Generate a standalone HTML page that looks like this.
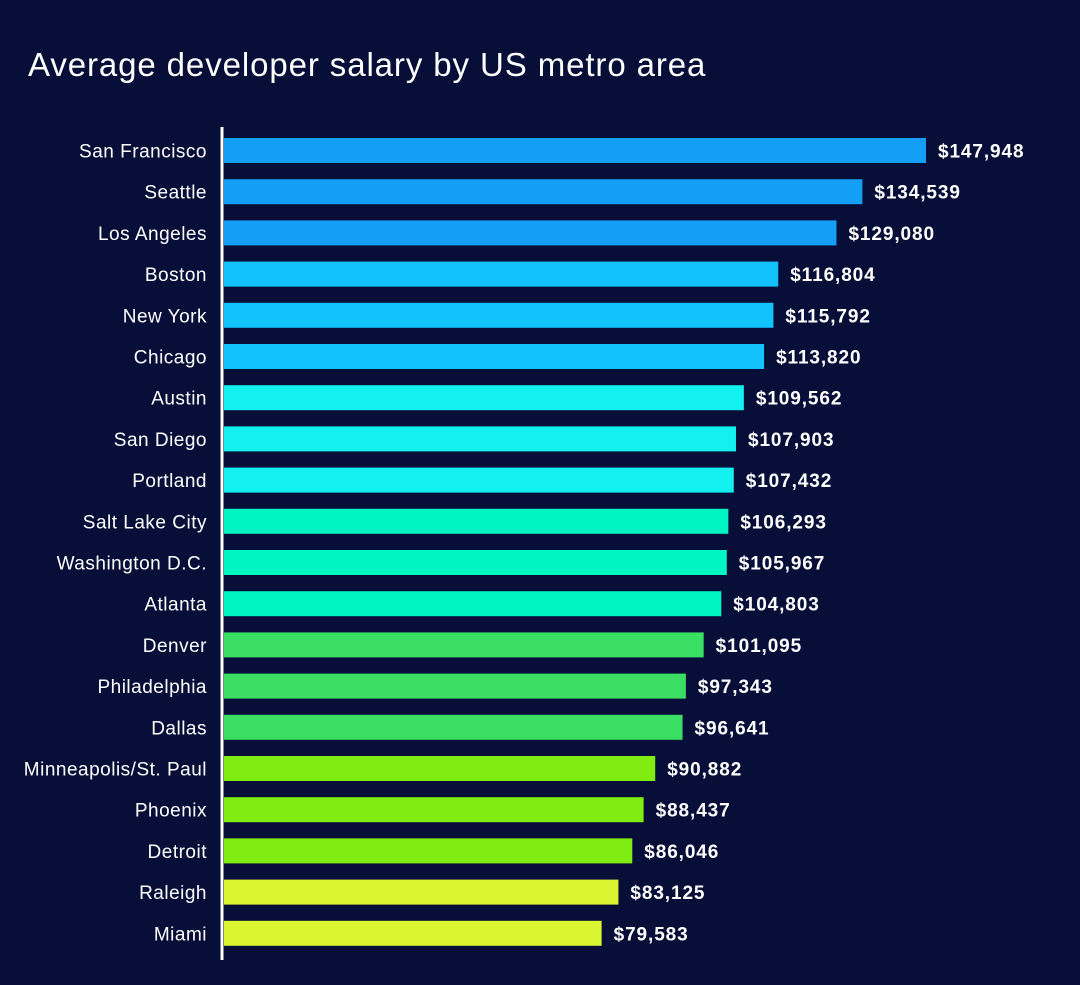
<!DOCTYPE html>
<html><head><meta charset="utf-8"><style>
body{margin:0;background:#070e37;width:1080px;height:980px;overflow:hidden;font-family:"Liberation Sans",sans-serif}
</style></head><body>
<svg id="chart" width="1080" height="980" xmlns="http://www.w3.org/2000/svg">
<rect width="1080" height="980" fill="#070e37"/>
<text x="28" y="76" fill="#ffffff" font-size="33" letter-spacing="0.9" font-family="Liberation Sans, sans-serif">Average developer salary by US metro area</text>
<g id="bars"></g>
<line x1="222" y1="127" x2="222" y2="960" stroke="#ffffff" stroke-width="3"/>
</svg>
<script>
const cities=["San Francisco","Seattle","Los Angeles","Boston","New York","Chicago","Austin","San Diego","Portland","Salt Lake City","Washington D.C.","Atlanta","Denver","Philadelphia","Dallas","Minneapolis/St. Paul","Phoenix","Detroit","Raleigh","Miami"];
const salaries=[147948,134539,129080,116804,115792,113820,109562,107903,107432,106293,105967,104803,101095,97343,96641,90882,88437,86046,83125,79583];
const colors=["#139ff6","#139ff6","#139ff6","#12c2fb","#12c2fb","#12c2fb","#13f0f0","#13f0f0","#13f0f0","#00f5c4","#00f5c4","#00f5c4","#3ade62","#3ade62","#3ade62","#80ec12","#80ec12","#80ec12","#dbf530","#dbf530"];
const x0=224, scale=702/147948;
const xs=v=>x0+v*scale;
const ys=i=>150.5+i*41.2;
const g=document.getElementById('bars');
const NS="http://www.w3.org/2000/svg";
cities.forEach((c,i)=>{
  const r=document.createElementNS(NS,'rect');
  
  
  r.setAttribute('x',x0);r.setAttribute('y',ys(i)-12.5);
  r.setAttribute('width',xs(salaries[i])-x0);r.setAttribute('height',25);
  r.setAttribute('fill',colors[i]);g.appendChild(r);
  const t=document.createElementNS(NS,'text');
  
  
  t.setAttribute('x',207);t.setAttribute('y',ys(i)+7);
  t.setAttribute('text-anchor','end');t.setAttribute('fill','#ffffff');t.setAttribute('font-size','19');t.setAttribute('letter-spacing','0.5');
  t.textContent=c;g.appendChild(t);
  const v=document.createElementNS(NS,'text');
  
  
  v.setAttribute('x',xs(salaries[i])+12);v.setAttribute('y',ys(i)+7);
  v.setAttribute('fill','#ffffff');v.setAttribute('font-size','19');v.setAttribute('font-weight','bold');v.setAttribute('letter-spacing','0.9');
  v.textContent='$'+salaries[i].toLocaleString('en-US');g.appendChild(v);
});
</script>
</body></html>
